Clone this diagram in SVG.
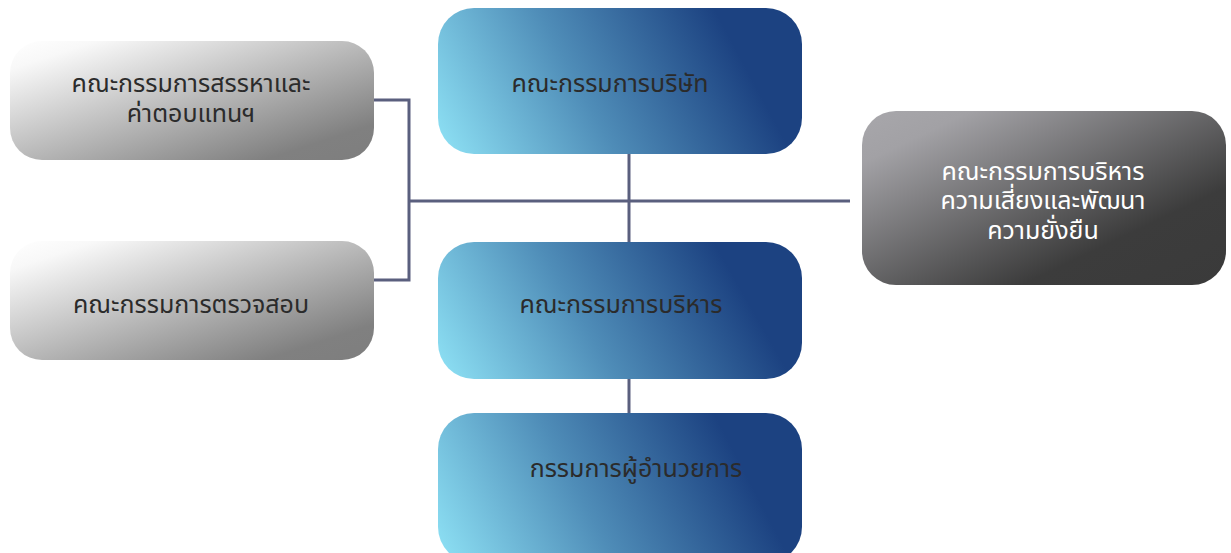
<svg xmlns="http://www.w3.org/2000/svg" width="1231" height="553" viewBox="0 0 1231 553">
<style>
.lbl{font-family:"Noto Sans","Noto Sans Thai",sans-serif;font-size:25px;fill:#2b2b2b;text-anchor:middle;dominant-baseline:central}
.wht{fill:#ffffff}
.conn{stroke:#5a5f7e;stroke-width:3;fill:none}
</style>
<defs>
<linearGradient id="gBlue" x1="0" y1="1" x2="0.93" y2="0.8">
<stop offset="0" stop-color="#8fe3f6"/>
<stop offset="0.5" stop-color="#4f8db8"/>
<stop offset="1" stop-color="#1c4281"/>
</linearGradient>
<linearGradient id="gGrey" x1="0" y1="0" x2="1" y2="1">
<stop offset="0" stop-color="#ffffff"/>
<stop offset="0.12" stop-color="#f8f8f8"/>
<stop offset="0.85" stop-color="#808080"/>
<stop offset="1" stop-color="#7e7e7e"/>
</linearGradient>
<linearGradient id="gDark" x1="0" y1="0" x2="1" y2="1">
<stop offset="0" stop-color="#a8a7ab"/>
<stop offset="0.15" stop-color="#a2a1a5"/>
<stop offset="0.72" stop-color="#3c3c3c"/>
<stop offset="1" stop-color="#3a3a3a"/>
</linearGradient>
</defs>
<g id="connectors">
<polyline class="conn" points="374,100 409,100 409,280 374,280"/>
<line class="conn" x1="409" y1="201" x2="850" y2="201"/>
<line class="conn" x1="629" y1="153" x2="629" y2="242"/>
<line class="conn" x1="629" y1="378" x2="629" y2="413"/>
</g>
<g id="node-nomination">
<rect x="10" y="41" width="364" height="119" rx="32" fill="url(#gGrey)"/>
<text class="lbl" x="191" y="82">คณะกรรมการสรรหาและ</text>
<text class="lbl" x="191" y="112">ค่าตอบแทนฯ</text>
</g>
<g id="node-audit">
<rect x="10" y="241" width="364" height="119" rx="32" fill="url(#gGrey)"/>
<text class="lbl" x="191" y="303">คณะกรรมการตรวจสอบ</text>
</g>
<g id="node-board">
<rect x="438" y="8" width="364" height="146" rx="36" fill="url(#gBlue)"/>
<text class="lbl" x="610" y="82">คณะกรรมการบริษัท</text>
</g>
<g id="node-executive">
<rect x="438" y="242" width="364" height="137" rx="36" fill="url(#gBlue)"/>
<text class="lbl" x="621" y="303">คณะกรรมการบริหาร</text>
</g>
<g id="node-md">
<rect x="438" y="413" width="364" height="150" rx="36" fill="url(#gBlue)"/>
<text class="lbl" x="636" y="467">กรรมการผู้อำนวยการ</text>
</g>
<g id="node-risk">
<rect x="862" y="111" width="364" height="174" rx="34" fill="url(#gDark)"/>
<text class="lbl wht" x="1043" y="170">คณะกรรมการบริหาร</text>
<text class="lbl wht" x="1043" y="199">ความเสี่ยงและพัฒนา</text>
<text class="lbl wht" x="1043" y="229">ความยั่งยืน</text>
</g>
</svg>
